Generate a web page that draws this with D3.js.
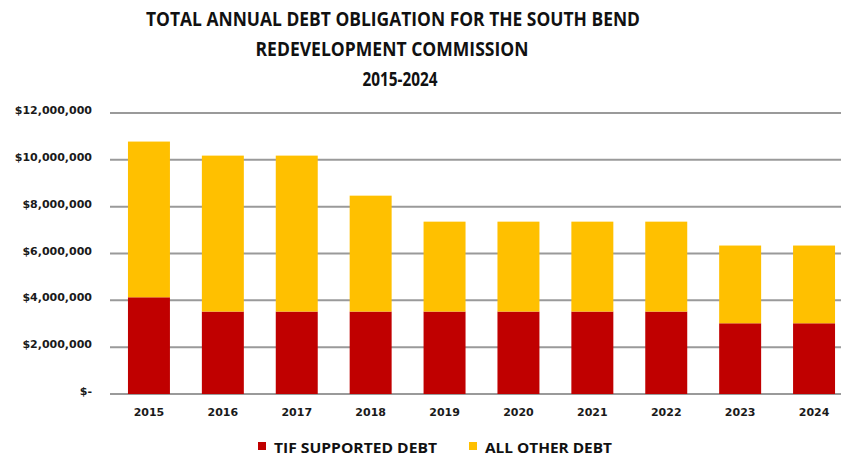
<html>
<head>
<script type="text/javascript" src="https://cdn.jsdelivr.net/npm/d3@7/dist/d3.min.js"></script>
<style>
	body{ margin:0; background:#fff; }
	svg{ display:block; }
	.tick text{ font-family:"DejaVu Sans", sans-serif; font-weight:bold; font-size:11px; fill:#1a1a1a; }
</style>
</head>
<body>
<div id="container"></div>
<script type="text/javascript">

	var years = ["2015","2016","2017","2018","2019","2020","2021","2022","2023","2024"];
	var tifDebt   = [4130000, 3520000, 3520000, 3520000, 3520000, 3520000, 3520000, 3520000, 3020000, 3020000];
	var otherDebt = [6650000, 6660000, 6660000, 4950000, 3840000, 3840000, 3840000, 3840000, 3320000, 3320000];
	var yTicks = [0, 2000000, 4000000, 6000000, 8000000, 10000000, 12000000];
	var seriesNames = ["TIF SUPPORTED DEBT", "ALL OTHER DEBT"];
	var colors = ["#c00000", "#ffc000"];
	var titleLines = ["TOTAL ANNUAL DEBT OBLIGATION  FOR THE SOUTH BEND", "REDEVELOPMENT COMMISSION", "2015-2024"];

	var width = 841, height = 457;

	var svg = d3.select("#container").append("svg")
		.attr("width", width)
		.attr("height", height);

	var rows = years.map(function(y, i){
		return { year: y, tif: tifDebt[i], other: otherDebt[i] };
	});

	var stack = d3.stack().keys(["tif", "other"]);
	var layers = stack(rows);

	// plot runs a little past the right edge, like the original crop
	var x = d3.scaleBand()
		.domain(years)
		.range([112, 851])
		.paddingInner(0.432)
		.paddingOuter(0.216);

	var y = d3.scaleLinear()
		.domain([0, 12000000])
		.range([394, 113]);

	// gridlines
	svg.append("g")
		.selectAll("line")
		.data(yTicks)
		.enter().append("line")
		.attr("x1", 110)
		.attr("x2", width)
		.attr("y1", function(d){ return y(d); })
		.attr("y2", function(d){ return y(d); })
		.attr("stroke", "#9a9a9a")
		.attr("stroke-width", 2);

	// bars
	svg.append("g")
		.selectAll("g")
		.data(layers)
		.enter().append("g")
		.attr("fill", function(d, i){ return colors[i]; })
		.selectAll("rect")
		.data(function(d){ return d; })
		.enter().append("rect")
		.attr("x", function(d){ return x(d.data.year); })
		.attr("width", x.bandwidth())
		.attr("y", function(d){ return y(d[1]); })
		.attr("height", function(d){ return y(d[0]) - y(d[1]); });

	// y axis
	var fmt = d3.format("$,");
	var yAxis = d3.axisLeft(y)
		.tickValues(yTicks)
		.tickSize(0)
		.tickPadding(0)
		.tickFormat(function(d){ return d === 0 ? "$-" : fmt(d); });

	svg.append("g")
		.attr("transform", "translate(92,-3)")
		.call(yAxis)
		.call(function(g){ g.select(".domain").remove(); });

	// x axis
	var xAxis = d3.axisBottom(x).tickSize(0).tickPadding(14);
	svg.append("g")
		.attr("transform", "translate(0,394)")
		.call(xAxis)
		.call(function(g){ g.select(".domain").remove(); });

	// title
	var titleX = [393, 392, 400], titleY = [26, 56, 86], titleW = [494, 273, 75];
	svg.append("g").selectAll("text")
		.data(titleLines)
		.enter().append("text")
		.attr("x", function(d, i){ return titleX[i]; })
		.attr("y", function(d, i){ return titleY[i]; })
		.attr("text-anchor", "middle")
		.attr("textLength", function(d, i){ return titleW[i]; })
		.attr("lengthAdjust", "spacingAndGlyphs")
		.style("font-family", "'Open Sans', sans-serif")
		.style("font-weight", "bold")
		.style("font-size", "19px")
		.style("fill", "#111")
		.text(function(d){ return d; });

	// legend
	var legX = [258, 469], legW = [163, 127];
	var leg = svg.append("g").selectAll("g")
		.data(seriesNames)
		.enter().append("g")
		.attr("transform", function(d, i){ return "translate(" + legX[i] + ",442)"; });

	leg.append("rect")
		.attr("width", 8)
		.attr("height", 8)
		.attr("fill", function(d, i){ return colors[i]; });

	leg.append("text")
		.attr("x", 16)
		.attr("y", 11)
		.attr("textLength", function(d, i){ return legW[i]; })
		.attr("lengthAdjust", "spacingAndGlyphs")
		.style("font-family", "'Open Sans', sans-serif")
		.style("font-weight", "bold")
		.style("font-size", "15px")
		.style("fill", "#111")
		.text(function(d){ return d; });

</script>
</body>
</html>
